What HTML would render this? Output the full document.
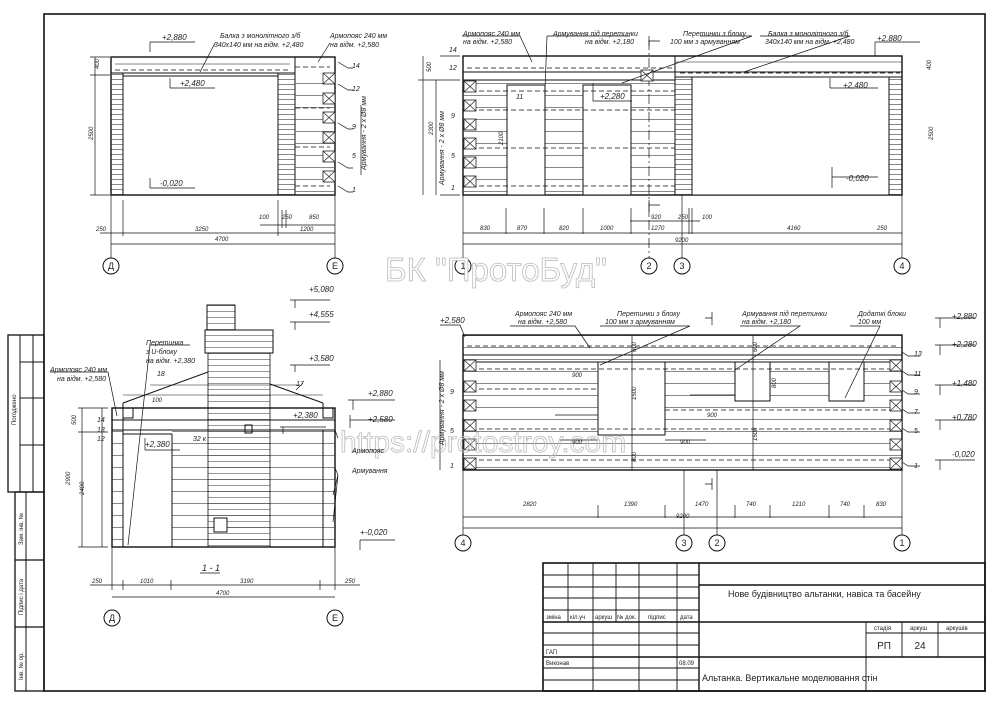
<!DOCTYPE html>
<html><head><meta charset="utf-8"><style>
html,body{margin:0;padding:0;background:#fff}
svg{display:block}
text{font-family:"Liberation Sans",sans-serif;fill:#222}
.i{font-style:italic}
</style></head><body>
<svg width="1000" height="707" viewBox="0 0 1000 707" xmlns="http://www.w3.org/2000/svg">
<defs>
<pattern id="hd" width="10" height="5" patternUnits="userSpaceOnUse"><line x1="0" y1="4.5" x2="10" y2="4.5" stroke="#555" stroke-width="0.7"/></pattern>
<pattern id="hb" width="10" height="12" patternUnits="userSpaceOnUse"><line x1="0" y1="11.5" x2="10" y2="11.5" stroke="#555" stroke-width="0.7"/></pattern>
<pattern id="hs" width="10" height="6" patternUnits="userSpaceOnUse"><line x1="0" y1="5.5" x2="10" y2="5.5" stroke="#555" stroke-width="0.6"/></pattern>
<g id="xb"><rect x="0" y="0" width="12" height="11" fill="#fff" stroke="#222" stroke-width="0.8"/><path d="M0 0L12 11M12 0L0 11" stroke="#222" stroke-width="0.7"/></g>
</defs>
<g fill="none" stroke="#111">
<!-- frame -->
<rect x="44" y="14" width="941" height="677" stroke-width="1.6"/>
<!-- left strip -->
<rect x="8" y="335" width="36" height="157" stroke-width="1.3"/>
<line x1="20" y1="335" x2="20" y2="492"/><line x1="33" y1="335" x2="33" y2="492"/>
<line x1="20" y1="362" x2="44" y2="362"/><line x1="20" y1="398" x2="44" y2="398"/><line x1="20" y1="445" x2="44" y2="445"/>
<rect x="15" y="492" width="29" height="199" stroke-width="1.3"/>
<line x1="26" y1="492" x2="26" y2="691"/>
<line x1="15" y1="560" x2="44" y2="560" stroke-width="1.3"/><line x1="15" y1="627" x2="44" y2="627" stroke-width="1.3"/>

<!-- ===== top-left elevation ===== -->
<rect x="111" y="57" width="224" height="138" stroke-width="1.4"/>
<rect x="111" y="73" width="12" height="122" fill="url(#hd)"/>
<rect x="278" y="73" width="17" height="122" fill="url(#hd)"/>
<line x1="111" y1="73" x2="295" y2="73"/>
<line x1="123" y1="76" x2="278" y2="76"/><line x1="123" y1="76" x2="123" y2="195"/><line x1="278" y1="76" x2="278" y2="195"/>
<line x1="115" y1="70" x2="290" y2="70" stroke-dasharray="5,3" stroke-width="0.8"/>
<line x1="115" y1="64" x2="290" y2="64" stroke-width="0.5"/>
<line x1="295" y1="57" x2="295" y2="195"/>
<rect x="295" y="73" width="40" height="122" fill="url(#hb)" stroke="none"/>
<line x1="295" y1="67" x2="330" y2="67" stroke-dasharray="5,3" stroke-width="0.8"/>
<line x1="295" y1="108" x2="330" y2="108" stroke-dasharray="5,3" stroke-width="0.8"/>
<line x1="295" y1="147" x2="330" y2="147" stroke-dasharray="5,3" stroke-width="0.8"/>
<line x1="295" y1="186" x2="330" y2="186" stroke-dasharray="5,3" stroke-width="0.8"/>
<use href="#xb" x="323" y="73"/><use href="#xb" x="323" y="93"/><use href="#xb" x="323" y="112"/><use href="#xb" x="323" y="132"/><use href="#xb" x="323" y="151"/><use href="#xb" x="323" y="171"/>
<!-- dims -->
<g stroke-width="0.7">
<line x1="95" y1="57" x2="95" y2="195"/><line x1="90" y1="57" x2="110" y2="57"/><line x1="90" y1="75" x2="110" y2="75"/><line x1="90" y1="195" x2="110" y2="195"/>
<line x1="111" y1="195" x2="111" y2="258"/><line x1="335" y1="195" x2="335" y2="258"/>
<line x1="278" y1="200" x2="278" y2="236"/><line x1="123" y1="200" x2="123" y2="236"/><line x1="282" y1="210" x2="282" y2="228"/><line x1="286" y1="210" x2="286" y2="228"/>
<line x1="260" y1="225" x2="335" y2="225"/><line x1="100" y1="233" x2="335" y2="233"/><line x1="111" y1="244" x2="335" y2="244"/>
<path d="M150 42H195M150 42V52M170 88H215M170 78V88M150 188H195M150 178V188M215 43L200 72M330 43L318 62"/>
<path d="M338 62l10 6h5M338 84l10 6h5M338 123l10 6h5M338 162l10 6h5M338 186l10 6h5M361 105L361 175"/>
</g>
<circle cx="111" cy="266" r="8" fill="#fff"/><circle cx="335" cy="266" r="8" fill="#fff"/>

<!-- ===== top-right elevation ===== -->
<rect x="463" y="56" width="439" height="139" stroke-width="1.4"/>
<rect x="463" y="80" width="212" height="115" fill="url(#hb)" stroke="none"/>
<line x1="463" y1="72" x2="675" y2="72"/><line x1="463" y1="80" x2="675" y2="80"/>
<line x1="467" y1="68" x2="675" y2="68" stroke-dasharray="5,3" stroke-width="0.8"/>
<line x1="675" y1="56" x2="675" y2="195"/>
<rect x="675" y="77" width="17" height="118" fill="url(#hd)"/>
<line x1="675" y1="72" x2="902" y2="72"/><line x1="675" y1="62" x2="902" y2="62" stroke-width="0.5"/>
<line x1="680" y1="73" x2="900" y2="73" stroke-dasharray="5,3" stroke-width="0.8"/>
<rect x="692" y="77" width="197" height="118" fill="#fff"/>
<rect x="889" y="77" width="13" height="118" fill="url(#hd)"/>
<rect x="507" y="85" width="38" height="110" fill="#fff"/><rect x="583" y="85" width="48" height="110" fill="#fff"/>
<g stroke-dasharray="5,3" stroke-width="0.8"><line x1="463" y1="91" x2="675" y2="91"/><line x1="463" y1="110" x2="675" y2="110"/><line x1="463" y1="148" x2="675" y2="148"/><line x1="463" y1="186" x2="675" y2="186"/></g>
<line x1="649" y1="40" x2="649" y2="258" stroke-dasharray="10,3,2,3" stroke-width="0.7"/>
<use href="#xb" x="464" y="81"/><use href="#xb" x="464" y="100"/><use href="#xb" x="464" y="119"/><use href="#xb" x="464" y="138"/><use href="#xb" x="464" y="157"/><use href="#xb" x="464" y="176"/>
<use href="#xb" x="641" y="70"/>
<g stroke-width="0.7">
<line x1="440" y1="56" x2="460" y2="56"/><line x1="440" y1="195" x2="460" y2="195"/><line x1="423" y1="56" x2="423" y2="195"/><line x1="436" y1="80" x2="436" y2="195"/><line x1="418" y1="80" x2="460" y2="80"/>
<line x1="463" y1="195" x2="463" y2="258"/><line x1="902" y1="195" x2="902" y2="258"/><line x1="682" y1="195" x2="682" y2="258"/>
<line x1="463" y1="233" x2="902" y2="233"/><line x1="463" y1="244" x2="902" y2="244"/><line x1="630" y1="221" x2="700" y2="221"/>
<path d="M506 208V234M544 208V234M583 208V234M631 208V234M689 208V234M692 208V234"/>
<path d="M462 36H520L532 62M547 36H630M547 36L545 89M700 36H752L622 83M760 36H850L744 72M875 42H920M875 42V56M830 88H878M830 78V88M832 177H878M832 167V188M593 83V101H632"/>
<path d="M649 36V46M649 41H660M649 200V215M649 205H660"/>
</g>
<circle cx="463" cy="266" r="8" fill="#fff"/><circle cx="649" cy="266" r="8" fill="#fff"/><circle cx="682" cy="266" r="8" fill="#fff"/><circle cx="902" cy="266" r="8" fill="#fff"/>

<!-- ===== section 1-1 ===== -->
<rect x="207" y="305" width="28" height="25" fill="url(#hs)"/>
<rect x="205" y="330" width="68" height="23" fill="url(#hs)"/>
<path d="M123 403L208 372M270 384L323 403" />
<line x1="123" y1="395" x2="323" y2="395" stroke-width="0.5"/><line x1="150" y1="385" x2="300" y2="385" stroke-width="0.5"/>
<line x1="123" y1="403" x2="123" y2="408"/><line x1="323" y1="403" x2="323" y2="408"/>
<rect x="112" y="408" width="223" height="139" stroke-width="1.4"/>
<rect x="172" y="430" width="151" height="117" fill="url(#hb)" stroke="none"/>
<rect x="208" y="353" width="62" height="194" fill="url(#hs)" stroke-width="0.8"/>
<rect x="112" y="430" width="11" height="117" fill="url(#hb)"/>
<rect x="323" y="430" width="12" height="117" fill="url(#hb)"/>
<line x1="112" y1="420" x2="335" y2="420"/><line x1="112" y1="430" x2="335" y2="430"/>
<line x1="123" y1="408" x2="123" y2="547"/><line x1="172" y1="434" x2="172" y2="547"/><line x1="123" y1="434" x2="172" y2="434"/>
<rect x="123" y="408" width="10" height="10"/><rect x="323" y="408" width="10" height="10"/>
<rect x="245" y="425" width="7" height="8"/><rect x="214" y="518" width="13" height="14" fill="#fff"/>
<g stroke-width="0.7">
<path d="M82 408V547M102 408V547M78 408H108M78 432H108M78 547H108M112 547V590M335 547V590M123 580V590M171 580V590M320 580V590M90 585H360M112 597H335"/>
<path d="M50 372H108L117 416M190 345H150L128 545M290 300H330M295 300V308M290 322H330M295 322V330M290 365H330M295 365V372M348 400H395M353 400V410M350 420H395M350 428V415M280 427H326M283 427V434M145 450H180M145 438V450M360 540H395M360 540V550M303 383L296 390M338 438L335 430M338 475L335 468M338 475L333 495M338 475L333 522"/>
</g>
<circle cx="112" cy="618" r="8" fill="#fff"/><circle cx="335" cy="618" r="8" fill="#fff"/>
<line x1="200" y1="573" x2="220" y2="573" stroke-width="0.8"/>

<!-- ===== bottom-right elevation ===== -->
<rect x="463" y="335" width="439" height="135" fill="url(#hb)" stroke-width="1.4"/>
<line x1="463" y1="355" x2="902" y2="355"/><line x1="463" y1="362" x2="902" y2="362"/>
<line x1="467" y1="346" x2="898" y2="346" stroke-dasharray="5,3" stroke-width="0.8"/>
<rect x="598" y="362" width="67" height="73" fill="#fff"/>
<rect x="735" y="362" width="35" height="39" fill="#fff"/>
<rect x="829" y="362" width="35" height="39" fill="#fff"/>
<g stroke-dasharray="5,3" stroke-width="0.8"><line x1="463" y1="369" x2="902" y2="369"/><line x1="463" y1="389" x2="598" y2="389"/><line x1="665" y1="410" x2="902" y2="410"/><line x1="463" y1="429" x2="902" y2="429"/><line x1="463" y1="460" x2="902" y2="460"/></g>
<use href="#xb" x="464" y="360"/><use href="#xb" x="464" y="381"/><use href="#xb" x="464" y="400"/><use href="#xb" x="464" y="420"/><use href="#xb" x="464" y="439"/><use href="#xb" x="464" y="458"/>
<use href="#xb" x="890" y="360"/><use href="#xb" x="890" y="381"/><use href="#xb" x="890" y="400"/><use href="#xb" x="890" y="420"/><use href="#xb" x="890" y="439"/><use href="#xb" x="890" y="458"/>
<g stroke-width="0.7">
<path d="M632 335V470M753 335V470M555 415H598M665 440H706M690 395H735M560 440H598M440 360V470"/>
<path d="M463 470V535M902 470V535M684 470V535M717 470V535M463 517H902M463 528H902M598 505V518M665 505V518M735 505V518M770 505V518M829 505V518M864 505V518"/>
<path d="M510 326H575L590 348M600 326H690L600 365M740 326H800L735 370M850 326H880L845 398M935 318H975M940 318V328M935 345H975M940 345V355M935 385H975M940 385V395M935 420H975M940 420V430M935 460H975M940 460V470M440 325H460L465 337M902 352L908 356H920M902 371l6 4h12M902 390l6 4h12M902 409l6 4h12M902 428l6 4h12M902 462l6 4h12"/>
<path d="M712 312V325M705 318H712M712 478V490M705 484H712"/>
</g>
<circle cx="463" cy="543" r="8" fill="#fff"/><circle cx="684" cy="543" r="8" fill="#fff"/><circle cx="717" cy="543" r="8" fill="#fff"/><circle cx="902" cy="543" r="8" fill="#fff"/>

<!-- title block -->
<g stroke-width="0.9">
<rect x="543" y="563" width="442" height="128" stroke-width="1.6"/>
<line x1="699" y1="563" x2="699" y2="691" stroke-width="1.4"/>
<path d="M543 575H699M543 587H699M543 598H699M543 610H699M543 633H699M543 645H699M543 668H699M543 680H699"/>
<line x1="543" y1="622" x2="985" y2="622" stroke-width="1.4"/><line x1="543" y1="657" x2="699" y2="657" stroke-width="1.4"/>
<line x1="699" y1="585" x2="985" y2="585" stroke-width="1.4"/><line x1="699" y1="657" x2="985" y2="657" stroke-width="1.4"/>
<path d="M568 563V622M593 563V691M616 563V622M639 563V691M677 563V691M866 622V691M902 622V657M938 622V657M866 633H985"/>
</g>
</g>

<!-- watermark -->
<text x="385" y="281" font-size="33" fill="#fff" stroke="#bbb" stroke-width="0.8" style="fill:#fff">БК "ПротоБуд"</text>
<text x="340" y="452" font-size="30" fill="#fff" stroke="#bbb" stroke-width="0.8" style="fill:none">https://protostroy.com</text>

<g font-size="7" class="i">
<!-- top-left labels -->
<text x="162" y="40" font-size="8">+2,880</text>
<text x="180" y="86" font-size="8">+2,480</text>
<text x="160" y="186" font-size="8">-0,020</text>
<text x="220" y="38">Балка з монолітного з/б</text><text x="214" y="47">340х140 мм на відм. +2,480</text>
<text x="330" y="38">Армопояс 240 мм</text><text x="330" y="47">на відм. +2,580</text>
<text x="352" y="68">14</text><text x="352" y="91">12</text><text x="352" y="129">9</text><text x="352" y="158">5</text><text x="352" y="192">1</text>
<text x="99" y="69" transform="rotate(-90 99 69)" font-size="6">400</text>
<text x="93" y="140" transform="rotate(-90 93 140)" font-size="6">2500</text>
<text x="366" y="170" transform="rotate(-90 366 170)">Армування - 2 х Ø8 мм</text>
<text x="96" y="231" font-size="6">250</text><text x="195" y="231" font-size="6">3250</text><text x="300" y="231" font-size="6">1200</text><text x="259" y="219" font-size="6">100</text><text x="282" y="219" font-size="6">250</text><text x="309" y="219" font-size="6">850</text><text x="215" y="241" font-size="6">4700</text>
<!-- top-right labels -->
<text x="463" y="36">Армопояс 240 мм</text><text x="463" y="44">на відм. +2,580</text>
<text x="553" y="36">Армування під перетинки</text><text x="585" y="44">на відм. +2,180</text>
<text x="683" y="36">Перетинки з блоку</text><text x="670" y="44">100 мм з армуванням</text>
<text x="768" y="36">Балка з монолітного з/б</text><text x="765" y="44">340х140 мм на відм. +2,480</text>
<text x="877" y="41" font-size="8">+2,880</text><text x="843" y="88" font-size="8">+2,480</text><text x="846" y="181" font-size="8">-0,020</text><text x="600" y="99" font-size="8">+2,280</text>
<text x="449" y="52">14</text><text x="449" y="70">12</text><text x="451" y="118">9</text><text x="451" y="158">5</text><text x="451" y="190">1</text><text x="516" y="99">11</text>
<text x="427" y="230" transform="rotate(-90 427 120)" font-size="6"> </text>
<text x="480" y="230" font-size="6">830</text><text x="517" y="230" font-size="6">870</text><text x="559" y="230" font-size="6">820</text><text x="600" y="230" font-size="6">1000</text><text x="651" y="230" font-size="6">1270</text><text x="651" y="219" font-size="6">920</text><text x="678" y="219" font-size="6">250</text><text x="702" y="219" font-size="6">100</text><text x="787" y="230" font-size="6">4160</text><text x="877" y="230" font-size="6">250</text><text x="675" y="242" font-size="6">9200</text>
<text x="431" y="72" transform="rotate(-90 431 72)" font-size="6">500</text><text x="433" y="135" transform="rotate(-90 433 135)" font-size="6">2300</text><text x="444" y="185" transform="rotate(-90 444 185)">Армування - 2 х Ø8 мм</text><text x="503" y="145" transform="rotate(-90 503 145)" font-size="6">2100</text>
<text x="933" y="140" transform="rotate(-90 933 140)" font-size="6">2500</text><text x="931" y="70" transform="rotate(-90 931 70)" font-size="6">400</text>
<!-- section labels -->
<text x="309" y="292" font-size="8">+5,080</text><text x="309" y="317" font-size="8">+4,555</text><text x="309" y="361" font-size="8">+3,580</text>
<text x="368" y="396" font-size="8">+2,880</text><text x="368" y="422" font-size="8">+2,580</text><text x="293" y="418" font-size="8">+2,380</text><text x="145" y="447" font-size="8">+2,380</text><text x="360" y="535" font-size="8">+-0,020</text>
<text x="50" y="372">Армопояс 240 мм</text><text x="57" y="381">на відм. +2,580</text>
<text x="146" y="345">Перетинка</text><text x="146" y="354">з U-блоку</text><text x="146" y="363">на відм. +2,380</text>
<text x="157" y="376">18</text><text x="296" y="386">17</text><text x="352" y="453">Армопояс</text><text x="352" y="473">Армування</text><text x="193" y="441">32 к</text><text x="152" y="402" font-size="6">100</text>
<text x="97" y="422">14</text><text x="97" y="432">13</text><text x="97" y="441">12</text>
<text x="76" y="425" transform="rotate(-90 76 425)" font-size="6">500</text><text x="70" y="485" transform="rotate(-90 70 485)" font-size="6">2900</text><text x="84" y="495" transform="rotate(-90 84 495)" font-size="6">2400</text>
<text x="202" y="571" font-size="9">1 - 1</text>
<text x="92" y="583" font-size="6">250</text><text x="140" y="583" font-size="6">1010</text><text x="240" y="583" font-size="6">3190</text><text x="345" y="583" font-size="6">250</text><text x="216" y="595" font-size="6">4700</text>
<!-- bottom-right labels -->
<text x="440" y="323" font-size="8">+2,580</text>
<text x="515" y="316">Армопояс 240 мм</text><text x="518" y="324">на відм. +2,580</text>
<text x="617" y="316">Перетинки з блоку</text><text x="605" y="324">100 мм з армуванням</text>
<text x="742" y="316">Армування під перетинки</text><text x="742" y="324">на відм. +2,180</text>
<text x="858" y="316">Додаткі блоки</text><text x="858" y="324">100 мм</text>
<text x="952" y="319" font-size="8">+2,880</text><text x="952" y="347" font-size="8">+2,280</text><text x="952" y="386" font-size="8">+1,480</text><text x="952" y="420" font-size="8">+0,780</text><text x="952" y="457" font-size="8">-0,020</text>
<text x="914" y="356">13</text><text x="914" y="376">11</text><text x="914" y="394">9</text><text x="914" y="414">7</text><text x="914" y="433">5</text><text x="914" y="468">1</text>
<text x="450" y="394">9</text><text x="450" y="433">5</text><text x="450" y="468">1</text>
<text x="572" y="377" font-size="6">900</text><text x="707" y="417" font-size="6">900</text><text x="572" y="444" font-size="6">900</text><text x="680" y="444" font-size="6">900</text>
<text x="636" y="400" transform="rotate(-90 636 400)" font-size="6">1500</text><text x="636" y="352" transform="rotate(-90 636 352)" font-size="6">600</text><text x="636" y="462" transform="rotate(-90 636 462)" font-size="6">800</text>
<text x="757" y="352" transform="rotate(-90 757 352)" font-size="6">600</text><text x="757" y="441" transform="rotate(-90 757 441)" font-size="6">1500</text><text x="776" y="388" transform="rotate(-90 776 388)" font-size="6">800</text>
<text x="523" y="506" font-size="6">2820</text><text x="624" y="506" font-size="6">1390</text><text x="695" y="506" font-size="6">1470</text><text x="746" y="506" font-size="6">740</text><text x="792" y="506" font-size="6">1210</text><text x="840" y="506" font-size="6">740</text><text x="876" y="506" font-size="6">830</text><text x="676" y="518" font-size="6">9200</text>
<text x="444" y="445" transform="rotate(-90 444 445)">Армування - 2 х Ø8 мм</text>
</g>
<!-- axis labels -->
<g font-size="9" text-anchor="middle">
<text x="111" y="269">Д</text><text x="335" y="269">Е</text><text x="463" y="269">1</text><text x="649" y="269">2</text><text x="682" y="269">3</text><text x="902" y="269">4</text>
<text x="112" y="621">Д</text><text x="335" y="621">Е</text><text x="463" y="546">4</text><text x="684" y="546">3</text><text x="717" y="546">2</text><text x="902" y="546">1</text>
</g>
<!-- title block texts -->
<g font-size="6">
<text x="546" y="619">зміна</text><text x="570" y="619">кіл.уч</text><text x="595" y="619">аркуш</text><text x="617" y="619">№ док.</text><text x="648" y="619">підпис</text><text x="680" y="619">дата</text>
<text x="546" y="654">ГАП</text><text x="546" y="665">Виконав</text><text x="679" y="665">08.09</text>
<text x="874" y="630">стадія</text><text x="910" y="630">аркуш</text><text x="946" y="630">аркушів</text>
</g>
<text x="728" y="597" font-size="9">Нове будівництво альтанки, навіса та басейну</text>
<text x="702" y="681" font-size="9">Альтанка. Вертикальне моделювання стін</text>
<text x="884" y="649" font-size="10" text-anchor="middle">РП</text><text x="920" y="649" font-size="10" text-anchor="middle">24</text>
<g font-size="6">
<text x="16" y="425" transform="rotate(-90 16 425)">Погоджено</text>
<text x="23" y="545" transform="rotate(-90 23 545)">Зам. інв. №</text>
<text x="23" y="615" transform="rotate(-90 23 615)">Підпис і дата</text>
<text x="23" y="680" transform="rotate(-90 23 680)">Інв. № ор.</text>
</g>
</svg>
</body></html>
